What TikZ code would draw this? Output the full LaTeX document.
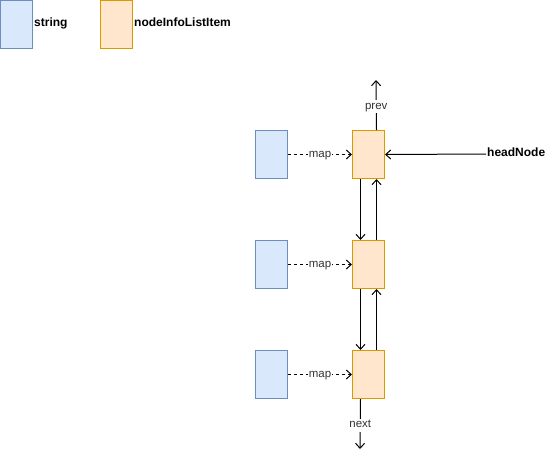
\documentclass[tikz,border=0pt]{standalone}
\usepackage{fontspec}
\setmainfont{Liberation Sans}
\usetikzlibrary{arrows.meta}
\definecolor{strfill}{HTML}{DAE8FC}
\definecolor{strline}{HTML}{6C8EBF}
\definecolor{itemfill}{HTML}{FFE6CC}
\definecolor{itemline}{HTML}{D79B00}
\definecolor{labeltext}{HTML}{333333}
\begin{document}
\begin{tikzpicture}[x=1pt,y=-1pt,
  box/.style={minimum width=32pt,minimum height=48pt,inner sep=0pt,line width=1pt,anchor=north west},
  strbox/.style={box,draw=strline,fill=strfill},
  itembox/.style={box,draw=itemline,fill=itemfill},
  legend/.style={font=\bfseries\fontsize{12}{14}\selectfont,anchor=west,inner sep=1pt,text height=8.5pt,text depth=3pt},
  lbl/.style={font=\fontsize{11.5}{13}\selectfont,text=labeltext,fill=white,inner sep=1pt,text height=8pt,text depth=3pt},
  link/.style={line width=1pt,-{Straight Barb[length=5pt,width=9pt,line width=1pt]}},
  maplink/.style={link,dashed,dash pattern=on 3pt off 3pt}
]
\useasboundingbox (0,0) rectangle (556,459);

% legend
\node[strbox] (lgs) at (0,0) {};
\node[legend] (lgst) at (33,24) {string};
\node[itembox] (lgi) at (100,0) {};
\node[legend] (lgit) at (133,24) {nodeInfoListItem};

% string keys and list items
\foreach \i/\y in {1/130,2/240,3/350}{
  \node[strbox] (s\i) at (255,\y) {};
  \node[itembox] (n\i) at (352,\y) {};
  \draw[maplink] (s\i.east) -- node[lbl] {map} (n\i.west);
}

% doubly linked list links
\foreach \a/\b in {1/2,2/3}{
  \draw[link] ([xshift=-8pt]n\a.south) -- ([xshift=-8pt]n\b.north);
  \draw[link] ([xshift=8pt]n\b.north) -- ([xshift=8pt]n\a.south);
}

% prev / next ends
\coordinate (ptop) at (376,80);
\coordinate (nbot) at (360,449);
\draw[link] ([xshift=8pt]n1.north) -- node[lbl,pos=0.47] {prev} (ptop);
\draw[link] ([xshift=-8pt]n3.south) -- node[lbl,pos=0.52] {next} (nbot);

% head pointer
\node[legend] (head) at (486,154) {headNode};
\draw[link] (head.west) -- (n1.east);
\end{tikzpicture}
\end{document}
